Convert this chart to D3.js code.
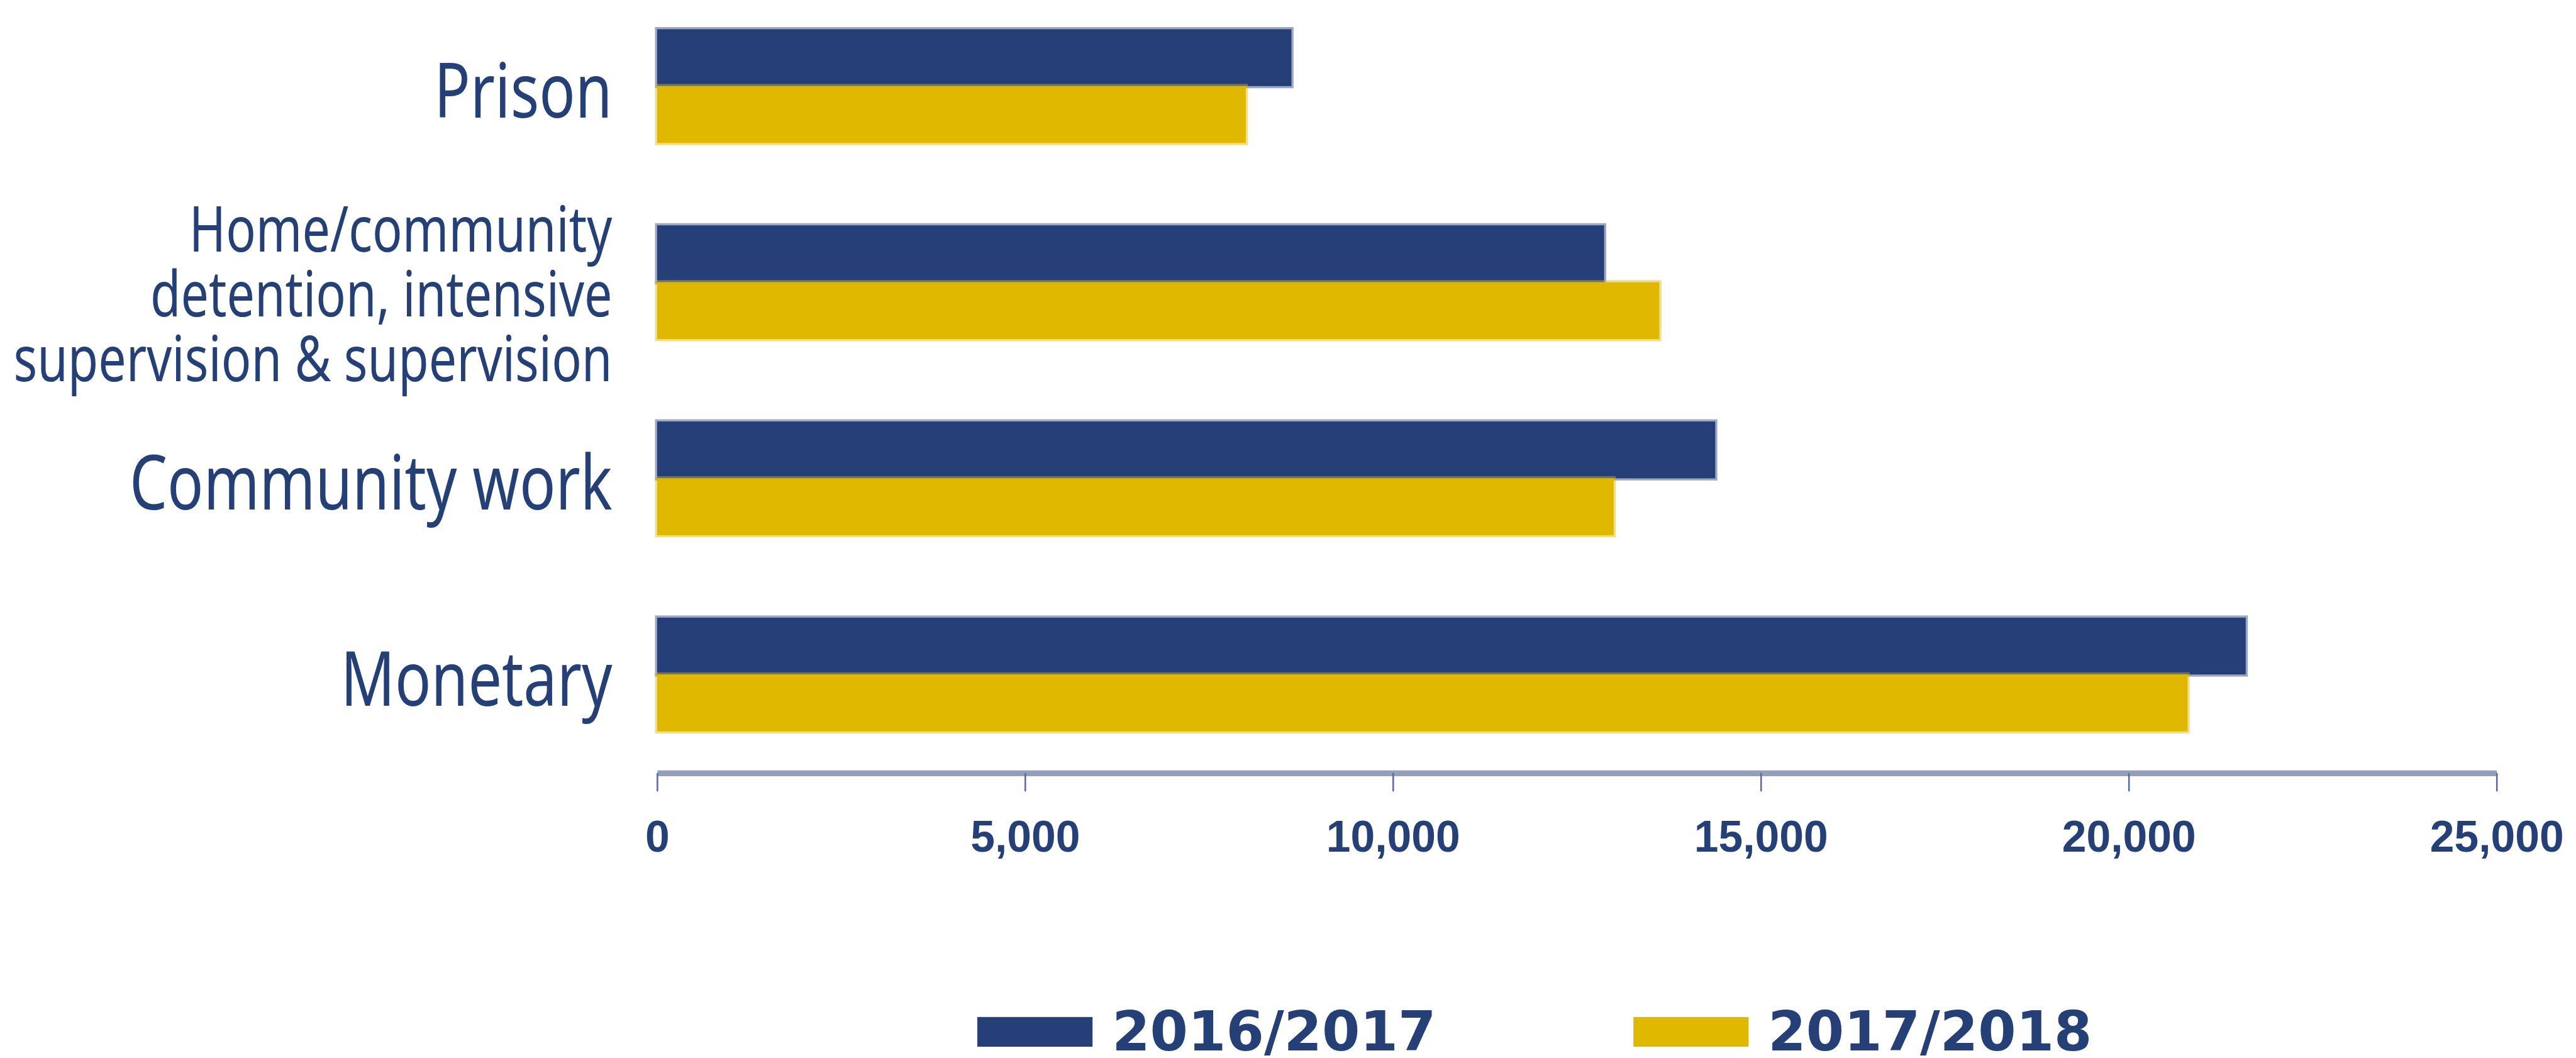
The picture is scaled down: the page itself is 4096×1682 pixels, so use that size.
<html>
<head>
<title>Sentences by type</title>
<script type="text/javascript" src="https://d3js.org/d3.v7.min.js"></script>
<style>
  body { margin: 0; background: #ffffff; }
</style>
</head>
<body>

<script type="text/javascript">

// data
var categories = ["Prison", "Home/community detention, intensive supervision & supervision", "Community work", "Monetary"];
var categoryLines = [["Prison"], ["Home/community", "detention, intensive", "supervision & supervision"], ["Community work"], ["Monetary"]];
var seriesNames = ["2016/2017", "2017/2018"];
var values2016 = [8620, 12870, 14380, 21590];
var values2017 = [8000, 13620, 13000, 20800];
var xTicks = [0, 5000, 10000, 15000, 20000, 25000];

var seriesColors = ["#253f77", "#e1b800"];
var textColor = "#253f77";

var rows = categories.map(function(c, i) {
  return { cat: c, lines: categoryLines[i], vals: [values2016[i], values2017[i]] };
});

// drawn in the reference's 4758x1954 frame, then shrunk to the window
var k = 0.86;
var svg = d3.select("body").append("svg")
            .attr("width", 4096)
            .attr("height", 1682);
var g = svg.append("g").attr("transform", "scale(" + k + ")");

var xScale = d3.scaleLinear().domain([0, 25000]).range([1215, 4616]);
var yScale = d3.scaleBand().domain(categories).range([54, 1352]).paddingInner(0.42).paddingOuter(0);
var ySub = d3.scaleBand().domain(seriesNames).range([0, yScale.bandwidth()]);

// bars
var groups = g.selectAll("g.cat").data(rows).enter()
              .append("g").attr("class", "cat")
              .attr("transform", function(d) { return "translate(0," + yScale(d.cat) + ")"; });

groups.selectAll("rect")
      .data(function(d) { return d.vals.map(function(v, i) { return { name: seriesNames[i], v: v, i: i }; }); })
      .enter().append("rect")
      .attr("x", xScale(0))
      .attr("y", function(d) { return ySub(d.name); })
      .attr("width", function(d) { return xScale(d.v) - xScale(0); })
      .attr("height", ySub.bandwidth())
      .attr("fill", function(d) { return seriesColors[d.i]; })
      .attr("stroke", function(d) { return seriesColors[d.i]; })
      .attr("stroke-opacity", 0.45)
      .attr("stroke-width", 8);

// category labels, right aligned, condensed humanist sans
var labels = groups.append("text")
                   .attr("text-anchor", "end")
                   .attr("fill", textColor)
                   .style("font-family", "'Noto Sans', 'Open Sans', sans-serif")
                   .style("font-size", function(d) { return d.lines.length > 1 ? "116px" : "140px"; });

labels.each(function(d) {
  var t = d3.select(this);
  var mid = yScale.bandwidth() / 2;
  var first = d.lines.length > 1 ? mid - 57 : mid + 58;
  d.lines.forEach(function(line, j) {
    t.append("tspan").attr("x", 1132).attr("y", first + j * 120).text(line);
  });
});
labels.selectAll("tspan").each(function() {
  var w = this.getComputedTextLength();
  d3.select(this).attr("textLength", w * 0.79).attr("lengthAdjust", "spacingAndGlyphs");
});

// x axis
var xAxis = d3.axisBottom(xScale)
              .tickValues(xTicks)
              .tickFormat(d3.format(","))
              .tickSize(34)
              .tickSizeOuter(0);

var axisG = g.append("g")
             .attr("transform", "translate(0,1429)")
             .call(xAxis);

axisG.select(".domain")
     .attr("stroke", "#93a0bd")
     .attr("stroke-width", 11);
axisG.selectAll(".tick line")
     .attr("stroke", "#5a6c9e")
     .attr("stroke-width", 3);
axisG.selectAll(".tick text")
     .attr("y", 145)
     .attr("dy", 0)
     .attr("fill", textColor)
     .style("font-family", "'Liberation Sans', Arial, sans-serif")
     .style("font-weight", "bold")
     .style("font-size", "81px");

// legend
var legend = g.selectAll("g.legend").data(seriesNames).enter()
              .append("g").attr("class", "legend")
              .attr("transform", function(d, i) { return "translate(" + (1807 + i * 1213) + ",1880)"; });

legend.append("rect")
      .attr("width", 213)
      .attr("height", 55)
      .attr("fill", function(d, i) { return seriesColors[i]; });

legend.append("text")
      .attr("x", 249)
      .attr("y", 62)
      .attr("fill", textColor)
      .style("font-family", "'DejaVu Sans', sans-serif")
      .style("font-weight", "bold")
      .style("font-size", "101px")
      .text(function(d) { return d; });

</script>

</body>
</html>
